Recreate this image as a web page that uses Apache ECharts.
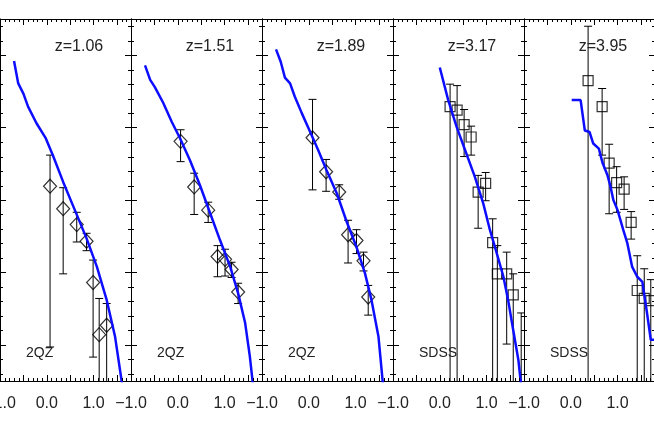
<!DOCTYPE html>
<html>
<head>
<meta charset="utf-8">
<script src="https://cdn.jsdelivr.net/npm/echarts@6/dist/echarts.min.js"></script>
<style>
html, body { margin: 0; padding: 0; background: #fff; }
#main { width: 654px; height: 423px; }
</style>
</head>
<body>
<div id="main"></div>
<script>
// 每个面板的标注
var redshifts = ['z=1.06', 'z=1.51', 'z=1.89', 'z=3.17', 'z=3.95'];
var surveys = ['2QZ', '2QZ', '2QZ', 'SDSS', 'SDSS'];
var markers = ['diamond', 'diamond', 'diamond', 'rect', 'rect'];

// 坐标范围
var xMin = -1, xMax = 1.8;
var yMin = -9.5, yMax = -4.5;

// 小刻度
var xMinorTicks = [-0.9,-0.8,-0.7,-0.6,-0.4,-0.3,-0.2,-0.1,0.1,0.2,0.3,0.4,0.6,0.7,0.8,0.9,1.1,1.2,1.3,1.4,1.6,1.7];
var yMinorTicks = [-9.4,-9.2,-8.8,-8.6,-8.4,-8.2,-7.8,-7.6,-7.4,-7.2,-6.8,-6.6,-6.4,-6.2,-5.8,-5.6,-5.4,-5.2,-4.8,-4.6];

// 模型曲线 [x, y]
var curve1 = [[-0.70,-5.08],[-0.61,-5.39],[-0.50,-5.53],[-0.40,-5.71],[-0.22,-5.94],[-0.02,-6.15],[0.14,-6.40],[0.35,-6.75],[0.60,-7.14],[0.85,-7.53],[1.07,-7.92],[1.28,-8.38],[1.46,-8.89],[1.60,-9.50],[1.63,-9.70]];
var curve2 = [[-0.70,-5.14],[-0.59,-5.34],[-0.49,-5.44],[-0.31,-5.66],[-0.13,-5.92],[0.05,-6.15],[0.26,-6.45],[0.47,-6.79],[0.69,-7.18],[0.90,-7.55],[1.12,-7.92],[1.29,-8.29],[1.44,-8.70],[1.54,-9.16],[1.60,-9.51],[1.62,-9.70]];
var curve3 = [[-0.70,-4.92],[-0.60,-5.09],[-0.51,-5.31],[-0.40,-5.39],[-0.30,-5.57],[-0.15,-5.80],[0.03,-6.06],[0.20,-6.31],[0.38,-6.59],[0.60,-6.91],[0.81,-7.30],[1.02,-7.65],[1.20,-8.01],[1.34,-8.38],[1.49,-8.89],[1.58,-9.51],[1.60,-9.70]];
var curve4 = [[0.00,-5.17],[0.18,-5.62],[0.36,-5.99],[0.54,-6.31],[0.75,-6.68],[0.93,-7.05],[1.07,-7.41],[1.22,-7.74],[1.36,-8.06],[1.46,-8.38],[1.57,-8.80],[1.68,-9.21],[1.73,-9.51],[1.75,-9.70]];
var curve5 = [[0.02,-5.62],[0.21,-5.62],[0.30,-6.04],[0.40,-6.06],[0.48,-6.22],[0.60,-6.29],[0.68,-6.49],[0.78,-6.65],[0.84,-6.79],[0.91,-7.00],[1.00,-7.14],[1.12,-7.41],[1.21,-7.60],[1.31,-7.92],[1.42,-8.06],[1.53,-8.13],[1.62,-8.52],[1.71,-8.93],[1.80,-8.93]];

// 观测点 [x, y, 下限, 上限]
var obs1 = [[0.07,-6.81,-9.03,-6.38],[0.35,-7.12,-8.02,-6.83],[0.64,-7.34,-7.58,-7.17],[0.85,-7.57,-7.70,-7.46],[0.99,-8.14,-9.17,-7.83],[1.12,-8.86,-10,-8.36],[1.28,-8.73,-10,-8.43]];
var obs2 = [[0.06,-6.19,-6.47,-6.03],[0.35,-6.82,-7.20,-6.63],[0.65,-7.14,-7.31,-7.03],[0.85,-7.78,-8.06,-7.63],[1.01,-7.82,-8.05,-7.68],[1.15,-7.96,-8.07,-7.86],[1.29,-8.27,-8.43,-8.15]];
var obs3 = [[0.08,-6.14,-6.86,-5.61],[0.37,-6.61,-6.88,-6.44],[0.65,-6.89,-6.99,-6.79],[0.84,-7.48,-7.87,-7.28],[1.02,-7.56,-7.74,-7.41],[1.17,-7.84,-7.98,-7.72],[1.27,-8.34,-8.59,-8.18]];
var obs4 = [[0.22,-5.71,-10,-5.40],[0.37,-5.76,-10,-5.42],[0.52,-5.96,-6.40,-5.75],[0.67,-6.13,-6.38,-5.98],[0.82,-6.89,-7.39,-6.66],[0.98,-6.77,-7.01,-6.62],[1.13,-7.59,-10,-7.26],[1.23,-8.02,-10,-7.63],[1.43,-8.02,-8.99,-7.72],[1.57,-8.31,-10,-8.02],[1.74,-9.80,-10,-8.56]];
var obs5 = [[0.37,-5.35,-10,-4.60],[0.67,-5.71,-6.38,-5.46],[0.82,-6.49,-7.19,-6.23],[0.98,-6.76,-7.17,-6.54],[1.14,-6.85,-7.13,-6.68],[1.29,-7.31,-7.54,-7.16],[1.42,-8.25,-10,-7.77],[1.57,-8.36,-10,-7.95],[1.71,-8.39,-10,-8.10]];

var curves = [curve1, curve2, curve3, curve4, curve5];
var observed = [obs1, obs2, obs3, obs4, obs5];

var FONT = 'Liberation Sans';
var ST = { stroke: '#000', lineWidth: 1 };

// 只显示整数刻度的标签
function fmtX(v) {
    if (Math.abs(v - Math.round(v)) > 1e-6) return '';
    if (v < 0) return '\u2212' + Math.abs(v).toFixed(1);
    return v.toFixed(1);
}

var tickStyle = { show: true, inside: true, length: 6, lineStyle: { color: '#000', width: 1 } };

// x轴：大刻度0.5
function xAx(g, pos, labels) {
    return {
        gridIndex: g, type: 'value', position: pos, min: xMin, max: xMax, interval: 0.5,
        axisLine: { show: true, onZero: false, lineStyle: { color: '#000', width: 1 } },
        axisTick: tickStyle,
        axisLabel: labels ? { show: true, formatter: fmtX, margin: 15, showMinLabel: true, showMaxLabel: false,
            hideOverlap: false, color: '#222', fontSize: 16, fontFamily: FONT } : { show: false },
        splitLine: { show: false }
    };
}

// y轴：大刻度1
function yAx(g, pos) {
    return {
        gridIndex: g, type: 'value', position: pos, min: yMin, max: yMax, splitNumber: 5,
        axisLine: { show: true, onZero: false, lineStyle: { color: '#000', width: 1 } },
        axisTick: tickStyle,
        axisLabel: { show: false },
        splitLine: { show: false }
    };
}

function errorBars(params, api) {
    var x = api.value(0);
    var pHi = api.coord([x, api.value(3)]);
    var pLo = api.coord([x, api.value(2)]);
    var cap = 4;
    return {
        type: 'group',
        children: [
            { type: 'line', shape: { x1: pHi[0], y1: pHi[1], x2: pLo[0], y2: pLo[1] }, style: ST },
            { type: 'line', shape: { x1: pHi[0] - cap, y1: pHi[1], x2: pHi[0] + cap, y2: pHi[1] }, style: ST },
            { type: 'line', shape: { x1: pLo[0] - cap, y1: pLo[1], x2: pLo[0] + cap, y2: pLo[1] }, style: ST }
        ]
    };
}

// 小刻度：上下边框
function xMinorItem(params, api) {
    var v = api.value(0);
    var b = api.coord([v, yMin]), t = api.coord([v, yMax]);
    var x = Math.round(b[0]) + 0.5;
    return {
        type: 'group',
        children: [
            { type: 'line', shape: { x1: x, y1: b[1], x2: x, y2: b[1] - 3 }, style: ST },
            { type: 'line', shape: { x1: x, y1: t[1], x2: x, y2: t[1] + 3 }, style: ST }
        ]
    };
}

// 小刻度：左右边框
function yMinorItem(params, api) {
    var v = api.value(1);
    var l = api.coord([xMin, v]), r = api.coord([xMax, v]);
    var y = Math.round(l[1]) + 0.5;
    return {
        type: 'group',
        children: [
            { type: 'line', shape: { x1: l[0], y1: y, x2: l[0] + 3, y2: y }, style: ST },
            { type: 'line', shape: { x1: r[0], y1: y, x2: r[0] - 3, y2: y }, style: ST }
        ]
    };
}

var xTickData = xMinorTicks.map(function (v) { return [v, yMin]; });
var yTickData = yMinorTicks.map(function (v) { return [xMin, v]; });

var myChart = echarts.init(document.getElementById('main'));

var grids = [], xAxes = [], yAxes = [], series = [], texts = [];

for (var i = 0; i < 5; i++) {
    var left = 131 * i;
    grids.push({ left: left, top: 19, width: 131, height: 362, outerBoundsMode: 'none', containLabel: false });

    xAxes.push(xAx(i, 'bottom', true));
    xAxes.push(xAx(i, 'top', false));
    yAxes.push(yAx(i, 'left'));
    yAxes.push(yAx(i, 'right'));

    var ax = 2 * i;
    series.push({
        type: 'custom', xAxisIndex: ax, yAxisIndex: ax, clip: false, silent: true,
        renderItem: xMinorItem, encode: { x: 0, y: 1 }, data: xTickData, z: 5
    });
    series.push({
        type: 'custom', xAxisIndex: ax, yAxisIndex: ax, clip: false, silent: true,
        renderItem: yMinorItem, encode: { x: 0, y: 1 }, data: yTickData, z: 5
    });
    series.push({
        type: 'custom', xAxisIndex: ax, yAxisIndex: ax, clip: true, silent: true,
        renderItem: errorBars, encode: { x: 0, y: 1 }, data: observed[i], z: 2
    });
    series.push({
        type: 'scatter', xAxisIndex: ax, yAxisIndex: ax, silent: true,
        symbol: markers[i], symbolSize: markers[i] === 'diamond' ? [13, 14] : 10,
        itemStyle: { color: 'rgba(0,0,0,0)', borderColor: '#000', borderWidth: 1.2 },
        data: observed[i], z: 3
    });
    series.push({
        type: 'line', xAxisIndex: ax, yAxisIndex: ax, silent: true,
        symbol: 'none', lineStyle: { color: '#0d0dff', width: 2.5 },
        data: curves[i], z: 4
    });

    texts.push({ type: 'text', x: left + 79, y: 47, z: 10,
        style: { text: redshifts[i], fill: '#222', font: '16px ' + FONT, align: 'center', verticalAlign: 'middle' } });
    texts.push({ type: 'text', x: left + 26, y: 353, z: 10,
        style: { text: surveys[i], fill: '#222', font: '14px ' + FONT, align: 'left', verticalAlign: 'middle' } });
}

var option = {
    animation: false,
    backgroundColor: '#fff',
    grid: grids,
    xAxis: xAxes,
    yAxis: yAxes,
    series: series,
    graphic: texts
};

myChart.setOption(option);
</script>
</body>
</html>
